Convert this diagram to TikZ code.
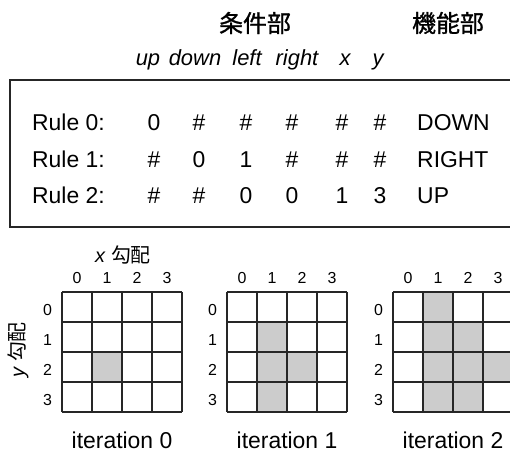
\documentclass[tikz,border=0pt]{standalone}
\usepackage{fontspec}
\setmainfont{Liberation Sans}
\newfontfamily\cjk{Noto Sans CJK JP}
\newfontfamily\cjktitle{Noto Sans CJK JP}[FakeBold=1.2]
\begin{document}
\begin{tikzpicture}[x=1bp,y=-1bp,
  title/.style={font=\cjktitle\fontsize{24}{28}\selectfont, inner sep=0pt},
  hdr/.style={font=\itshape\fontsize{22}{26}\selectfont, inner sep=0pt, anchor=base},
  cell/.style={font=\fontsize{23}{27}\selectfont, inner sep=0pt, anchor=base},
  lbl/.style={font=\fontsize{23}{27}\selectfont, inner sep=0pt, anchor=base west},
  tick/.style={font=\fontsize{16}{18}\selectfont, inner sep=0pt, anchor=base},
  axis/.style={font=\fontsize{20}{24}\selectfont, inner sep=0pt},
  iter/.style={font=\fontsize{23}{27}\selectfont, inner sep=0pt, anchor=base},
  gridline/.style={line width=1.4pt, draw=black!85},
  shade/.style={fill=black!20},
  frame/.style={line width=2pt, draw=black!85}]
\useasboundingbox (0,0) rectangle (510,454);
\clip (0,0) rectangle (510,454);
% titles
\node[title] (cond) at (255,23) {条件部};
\node[title] (func) at (448,23) {機能部};
% headers
\node[hdr] (hup) at (148,66) {up};
\node[hdr] (hdown) at (195,66) {down};
\node[hdr] (hleft) at (247,66) {left};
\node[hdr] (hright) at (297,66) {right};
\node[hdr] (hx) at (345,66) {x};
\node[hdr] (hy) at (378,66) {y};
% frame
\draw[frame] (515,80) -- (10,80) -- (10,227) -- (515,227);
% rules
\foreach \r/\yy/\a/\b/\c/\d/\e/\f/\act in {0/130.5/0/\#/\#/\#/\#/\#/DOWN, 1/168/\#/0/1/\#/\#/\#/RIGHT, 2/204/\#/\#/0/0/1/3/UP}{
  \node[lbl] (rl\r) at (32,\yy) {Rule \r:};
  \node[cell] (c\r a) at (154,\yy) {\a};
  \node[cell] (c\r b) at (199,\yy) {\b};
  \node[cell] (c\r c) at (246,\yy) {\c};
  \node[cell] (c\r d) at (292,\yy) {\d};
  \node[cell] (c\r e) at (342,\yy) {\e};
  \node[cell] (c\r f) at (380,\yy) {\f};
  \node[lbl] (act\r) at (417,\yy) {\act};
}
% axis labels
\node[axis] (xg) at (123,255) {\itshape x\hspace{0.3em}{\normalfont\cjk 勾配}};
\node[axis, rotate=90] (yg) at (18,350) {\itshape y\hspace{0.3em}{\normalfont\cjk 勾配}};
% grids
\foreach \g/\xo in {0/62, 1/227, 2/393}{
  \foreach \i in {0,1,2,3}{
    \node[tick] (g\g col\i) at (\xo+15+30*\i,283.5) {\i};
    \node[tick] (g\g row\i) at (\xo-14.5,315.5+30*\i) {\i};
  }
  \node[iter] (it\g) at (\xo+60,448) {iteration \g};
}
% shaded cells (grid origin, col, row)
\foreach \xo/\c/\r in {62/1/2,
  227/1/1, 227/1/2, 227/2/2, 227/1/3,
  393/1/0, 393/1/1, 393/2/1, 393/1/2, 393/2/2, 393/3/2, 393/1/3, 393/2/3}{
  \fill[shade] (\xo+30*\c,292+30*\r) rectangle ++(30,30);
}
\foreach \xo in {62,227,393}{
  \foreach \k in {0,1,2,3,4}{
    \draw[gridline] (\xo+30*\k,292) -- (\xo+30*\k,412);
    \draw[gridline] (\xo,292+30*\k) -- (\xo+120,292+30*\k);
  }
}
\end{tikzpicture}
\end{document}
